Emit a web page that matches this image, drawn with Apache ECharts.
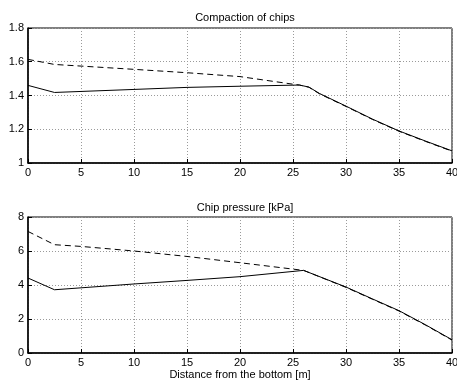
<!DOCTYPE html>
<html><head><meta charset="utf-8">
<script src="https://cdn.jsdelivr.net/npm/echarts@6/dist/echarts.min.js"></script>
<style>html,body{margin:0;padding:0;background:#fff}#c{width:457px;height:384px}</style>
</head><body><div id="c"></div>
<script>
const xTicks = [0,5,10,15,20,25,30,35,40];
const compactionSolid = [[0,1.46],[2.5,1.418],[10,1.436],[15,1.448],[20,1.455],[25.6,1.462],[26.5,1.45],[27.5,1.412],[30,1.337],[32.5,1.26],[35,1.19],[37.5,1.13],[40,1.072]];
const compactionDashed = [[0,1.614],[2.5,1.584],[10,1.555],[15,1.535],[20,1.512],[25,1.467],[25.6,1.462],[26.5,1.449],[27.5,1.41],[30,1.335],[32.5,1.258],[35,1.188],[37.5,1.128],[40,1.07]];
const pressureSolid = [[0,4.41],[2.5,3.72],[10,4.06],[15,4.27],[20,4.49],[26,4.86],[30,3.88],[32.5,3.18],[35,2.49],[37.5,1.66],[40,0.78]];
const pressureDashed = [[0,7.15],[2.5,6.37],[5,6.27],[10,6.0],[15,5.68],[20,5.31],[26,4.86],[30,3.86],[32.5,3.16],[35,2.47],[37.5,1.64],[40,0.76]];
const titles = ['Compaction of chips','Chip pressure [kPa]'];
const xName = 'Distance from the bottom [m]';

const font = 'Liberation Sans, Arial, Helvetica, sans-serif';
const chart = echarts.init(document.getElementById('c'));
const gridLine = {show:true, lineStyle:{color:'#9a9a9a', type:[1,2], width:1}};
function xAx(i, name){
  return {type:'value', gridIndex:i, min:0, max:40, interval:5,
    axisLine:{onZero:false, lineStyle:{color:'#000', width:1.5}},
    axisTick:{inside:true, length:4, lineStyle:{color:'#000'}},
    axisLabel:{color:'#000', fontSize:11, fontFamily:font, margin:4},
    splitLine:gridLine,
    name:name||'', nameLocation:'middle', nameGap:16,
    nameTextStyle:{color:'#000', fontSize:11, fontFamily:font}};
}
function yAx(i, min, max, interval){
  return {type:'value', gridIndex:i, min:min, max:max, interval:interval,
    axisLine:{onZero:false, lineStyle:{color:'#000', width:1.5}},
    axisTick:{inside:true, length:4, lineStyle:{color:'#000'}},
    axisLabel:{color:'#000', fontSize:11, fontFamily:font, margin:4},
    splitLine:gridLine};
}
function ln(xi, data, dashed){
  return {type:'line', xAxisIndex:xi, yAxisIndex:xi, data:data, showSymbol:false, symbol:'none',
    lineStyle:{color:'#000', width:1, type: dashed ? [6,4] : 'solid'}, animation:false, silent:true};
}
chart.setOption({
  backgroundColor:'#fff',
  animation:false,
  title:[
    {text:titles[0], left:240, top:7, textAlign:'center', textStyle:{fontSize:11, fontWeight:'normal', color:'#000', fontFamily:font}},
    {text:titles[1], left:240, top:197, textAlign:'center', textStyle:{fontSize:11, fontWeight:'normal', color:'#000', fontFamily:font}}
  ],
  grid:[
    {left:28, top:28, width:424, height:135, show:true, borderColor:'#000', borderWidth:1, backgroundColor:'transparent', containLabel:false, outerBoundsMode:'none'},
    {left:28, top:217, width:424, height:136, show:true, borderColor:'#000', borderWidth:1, backgroundColor:'transparent', containLabel:false, outerBoundsMode:'none'}
  ],
  xAxis:[xAx(0), xAx(1, xName)],
  yAxis:[yAx(0,1,1.8,0.2), yAx(1,0,8,2)],
  series:[
    ln(0, compactionSolid, false),
    ln(0, compactionDashed, true),
    ln(1, pressureSolid, false),
    ln(1, pressureDashed, true)
  ]
});
</script></body></html>
